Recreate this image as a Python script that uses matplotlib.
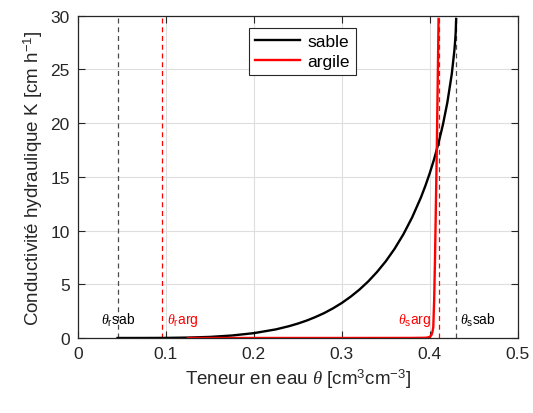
import numpy as np
import matplotlib
matplotlib.use('Agg')
import matplotlib.pyplot as plt

plt.rcParams['font.family'] = ['Liberation Sans', 'DejaVu Sans']
plt.rcParams['mathtext.fontset'] = 'custom'
plt.rcParams['mathtext.rm'] = 'Liberation Sans'
plt.rcParams['mathtext.it'] = 'Liberation Serif:italic'

# Courbes K(theta) : sable et argile
theta_sab = [0.045, 0.075, 0.100, 0.125, 0.150, 0.175, 0.200, 0.225, 0.240, 0.250,
             0.260, 0.270, 0.280, 0.290, 0.300, 0.310, 0.320, 0.330, 0.340, 0.350,
             0.360, 0.370, 0.380, 0.390, 0.395, 0.400, 0.405, 0.410, 0.415, 0.420,
             0.425, 0.428, 0.429, 0.4295, 0.430]
K_sab = [0.0, 0.001, 0.009, 0.037, 0.10, 0.23, 0.45, 0.80, 1.10, 1.34,
         1.62, 1.95, 2.32, 2.76, 3.26, 3.84, 4.50, 5.26, 6.14, 7.14,
         8.30, 9.65, 11.23, 13.09, 14.16, 15.34, 16.66, 18.15, 19.87, 21.92,
         24.55, 26.76, 27.79, 28.46, 29.7]

theta_arg = [0.125, 0.200, 0.300, 0.380, 0.395, 0.398, 0.400, 0.401, 0.402, 0.403,
             0.404, 0.405, 0.406, 0.407, 0.408, 0.409, 0.410]
K_arg = [0.0, 0.0, 0.0, 0.005, 0.02, 0.05, 0.11, 0.18, 0.3, 0.55,
         1.0, 3.5, 7.5, 12.5, 17.5, 23.5, 29.7]

# teneurs residuelles et a saturation
theta_r_sab, theta_s_sab = 0.045, 0.43
theta_r_arg, theta_s_arg = 0.095, 0.41

fig = plt.figure(figsize=(5.33, 4.14), dpi=100)
ax = fig.add_axes([0.1463, 0.1812, 0.8250, 0.7785])

gris = (0.15, 0.15, 0.15)
for th in (theta_r_sab, theta_s_sab):
    ax.axvline(th, color=(0.3, 0.3, 0.3), ls=(0, (4, 3)), lw=0.9)
for th in (theta_r_arg, theta_s_arg):
    ax.axvline(th, color='red', ls=(0, (4, 3)), lw=0.9)

ax.plot(theta_sab, K_sab, 'k-', lw=1.7, label='sable')
ax.plot(theta_arg, K_arg, 'r-', lw=1.7, label='argile')

ax.text(theta_r_sab, 0.9, r'$\theta_{\mathrm{r}}$sab', ha='center', va='bottom', fontsize=10, color='k')
ax.text(0.101, 0.9, r'$\theta_{\mathrm{r}}$arg', ha='left', va='bottom', fontsize=10, color='red')
ax.text(0.402, 0.9, r'$\theta_{\mathrm{s}}$arg', ha='right', va='bottom', fontsize=10, color='red')
ax.text(0.434, 0.9, r'$\theta_{\mathrm{s}}$sab', ha='left', va='bottom', fontsize=10, color='k')

ax.set_xlim(0, 0.5)
ax.set_ylim(0, 30)
ax.set_xticks([0, 0.1, 0.2, 0.3, 0.4, 0.5])
ax.set_xticklabels(['0', '0.1', '0.2', '0.3', '0.4', '0.5'])
ax.set_yticks([0, 5, 10, 15, 20, 25, 30])
ax.grid(True, color=(0.87, 0.87, 0.87), lw=0.8)
ax.set_axisbelow(True)
ax.tick_params(direction='in', length=5, top=True, right=True, labelsize=12.5,
               colors=gris, pad=6)
for s in ax.spines.values():
    s.set_color(gris)
    s.set_linewidth(0.9)

ax.set_xlabel(r'Teneur en eau $\theta$ [cm$^{3}$cm$^{-3}$]', fontsize=13.5, color=gris)
ax.set_ylabel(r'Conductivité hydraulique K [cm h$^{-1}$]', fontsize=13.5, color=gris)

leg = ax.legend(loc='upper left', bbox_to_anchor=(0.389, 0.963), fontsize=12.5,
                fancybox=False, framealpha=1, edgecolor=gris, handlelength=2.6,
                borderaxespad=0, borderpad=0.35, labelspacing=0.3, handletextpad=0.4)
leg.get_frame().set_linewidth(0.8)

fig.savefig('out.png', dpi=100)
